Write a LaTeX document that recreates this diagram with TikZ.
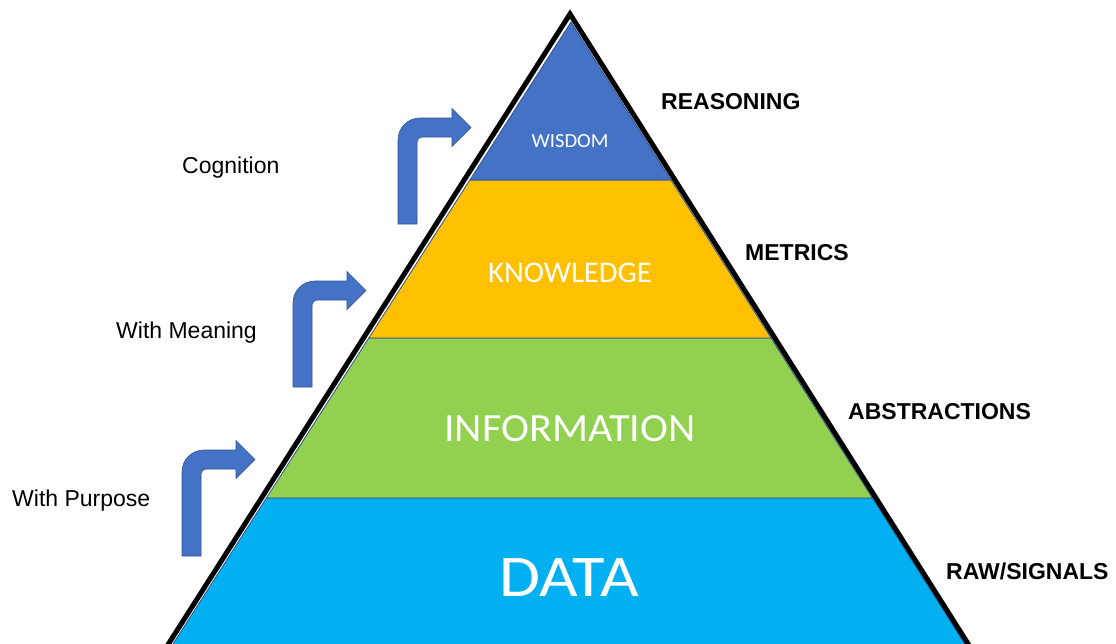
\documentclass[tikz,border=0pt]{standalone}
\usepackage{fontspec}
\setmainfont{Liberation Sans}
\newfontfamily\bandfont{Carlito}
\definecolor{wisdomc}{HTML}{4472C4}
\definecolor{knowc}{HTML}{FFC000}
\definecolor{infoc}{HTML}{92D050}
\definecolor{datac}{HTML}{00B0F0}
\definecolor{edgec}{HTML}{2F528F}
\definecolor{arrowc}{HTML}{4472C4}
\begin{document}
\begin{tikzpicture}[x=1pt,y=-1pt,
  band/.style={draw=edgec,line width=0.8pt},
  bandlabel/.style={font=\bandfont,text=white,anchor=base,inner sep=0pt},
  sidelabel/.style={font=\fontsize{23}{26}\selectfont,anchor=base west,inner sep=0pt},
  boldlabel/.style={sidelabel,font=\fontsize{23}{26}\selectfont\bfseries},
  bentarrow/.pic={
    \path[fill=arrowc,draw=edgec,line width=0.6pt]
      (0,96.5) -- (0,12.5) .. controls (0,0) and (10,-9.5) .. (22,-9.5)
      -- (54,-9.5) -- (54,-19) -- (73,0) -- (54,19) -- (54,9.5)
      -- (24,9.5) .. controls (21.2,9.5) and (19,11.7) .. (19,14.5)
      -- (19,96.5) -- cycle;
  }]
\useasboundingbox (0,0) rectangle (1116,643);
\clip (0,0) rectangle (1116,643);
% bands
\path[band,fill=datac]   (266.4,498) -- (872.3,498) -- (974.9,660) -- (162.7,660) -- cycle;
\path[band,fill=infoc]   (368.8,338) -- (771.0,338) -- (872.3,498) -- (266.4,498) -- cycle;
\path[band,fill=knowc]   (469.9,180) -- (671.0,180) -- (771.0,338) -- (368.8,338) -- cycle;
\path[band,fill=wisdomc] (571,22) -- (671.0,180) -- (469.9,180) -- cycle;
% outline
\coordinate (apex) at (570,14);
\coordinate (bl) at (158.2,660);
\coordinate (br) at (978.3,660);
\draw[line width=5pt,line join=miter] (bl) -- (apex) -- (br);
% band labels
\node[bandlabel,font=\bandfont\fontsize{20}{22}\selectfont,xscale=1.03] (wis) at (570,147) {WISDOM};
\node[bandlabel,font=\bandfont\fontsize{30}{34}\selectfont,xscale=1.02] (kno) at (570,282) {KNOWLEDGE};
\node[bandlabel,font=\bandfont\fontsize{40}{44}\selectfont,xscale=1.055] (inf) at (570,441) {INFORMATION};
\node[bandlabel,font=\bandfont\fontsize{59}{64}\selectfont,xscale=1.13] (dat) at (569,596) {DATA};
% right labels
\node[boldlabel] (rea) at (661,109) {REASONING};
\node[boldlabel] (met) at (745,260) {METRICS};
\node[boldlabel] (abs) at (848,419) {ABSTRACTIONS};
\node[boldlabel] (raw) at (946,579) {RAW/SIGNALS};
% left labels
\node[sidelabel] (cog) at (182,173) {Cognition};
\node[sidelabel] (mea) at (116,338) {With Meaning};
\node[sidelabel] (pur) at (12,506) {With Purpose};
% arrows
\pic (arr1) at (398,127.5) {bentarrow};
\pic (arr2) at (293,290.5) {bentarrow};
\pic (arr3) at (182,459.5) {bentarrow};
\end{tikzpicture}
\end{document}
